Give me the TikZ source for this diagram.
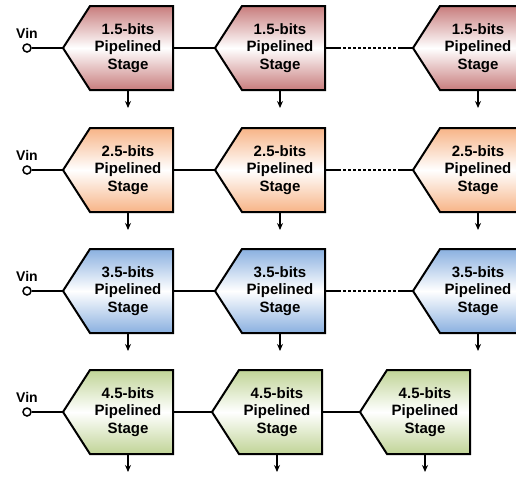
\documentclass[tikz,border=0pt]{standalone}
\usepackage{fontspec}
\setmainfont{Liberation Sans}
\usetikzlibrary{arrows.meta}

\definecolor{stagered}{RGB}{200,125,125}
\definecolor{stageorange}{RGB}{247,180,135}
\definecolor{stageblue}{RGB}{138,176,224}
\definecolor{stagegreen}{RGB}{192,212,150}

\tikzset{
  stagebody/.style={draw=black, line width=2pt, line join=miter},
  stagetext/.style={minimum width=90pt, minimum height=84pt, inner sep=0pt,
    align=center, font=\fontsize{15}{17.5}\selectfont\bfseries},
  wire/.style={line width=1.8pt},
  outarrow/.style={line width=1.4pt, -{Stealth[length=7pt,width=6pt]}},
  vinpin/.style={circle, draw, line width=1.5pt, fill=white, inner sep=0pt, minimum size=8pt},
  vintext/.style={font=\fontsize{14}{15}\selectfont\bfseries},
}

\begin{document}
\begin{tikzpicture}[x=1pt,y=-1pt]
  \useasboundingbox (0,0) rectangle (516,477);
  % rows: number / centre y / colour / label / 2nd and 3rd tip x
  \foreach \r/\c/\col/\lab/\mid/\last in {1/48/stagered/1.5/215/413,
      2/170/stageorange/2.5/215/413, 3/291/stageblue/3.5/215/413,
      4/412/stagegreen/4.5/212/360} {
    \foreach \k/\p in {1/63, 2/\mid, 3/\last} {
      % Draw stage body
      \shadedraw[stagebody, top color=\col, bottom color=\col, middle color=white]
        (\p,\c) -- ({\p+27},{\c-42}) -- ({\p+110},{\c-42})
        -- ({\p+110},{\c+42}) -- ({\p+27},{\c+42}) -- cycle;
      \coordinate (t\r\k) at (\p,\c);
      \node[stagetext] (s\r\k) at ({\p+65},\c) {\lab-bits\\Pipelined\\Stage};
      \coordinate (o\r\k) at ({\p+65},{\c+60});
      \draw[outarrow] (s\r\k.south) -- (o\r\k);
    }
    % Input pin
    \node[vinpin] (vin\r) at (27,\c) {};
    \node[vintext] (vl\r) at (27,{\c-15}) {Vin};
    \draw[wire] (vin\r) -- (t\r1);
    \draw[wire] (s\r1.east) -- (t\r2);
    \ifnum\r<4
      \path (s\r2.east) -- (t\r3) coordinate[pos=0.15] (a\r) coordinate[pos=0.85] (b\r);
      \draw[wire] (s\r2.east) -- (a\r);
      \draw[wire, dash pattern=on 3pt off 2pt] (a\r) -- (b\r);
      \draw[wire] (b\r) -- (t\r3);
    \else
      \draw[wire] (s\r2.east) -- (t\r3);
    \fi
  }
\end{tikzpicture}
\end{document}
